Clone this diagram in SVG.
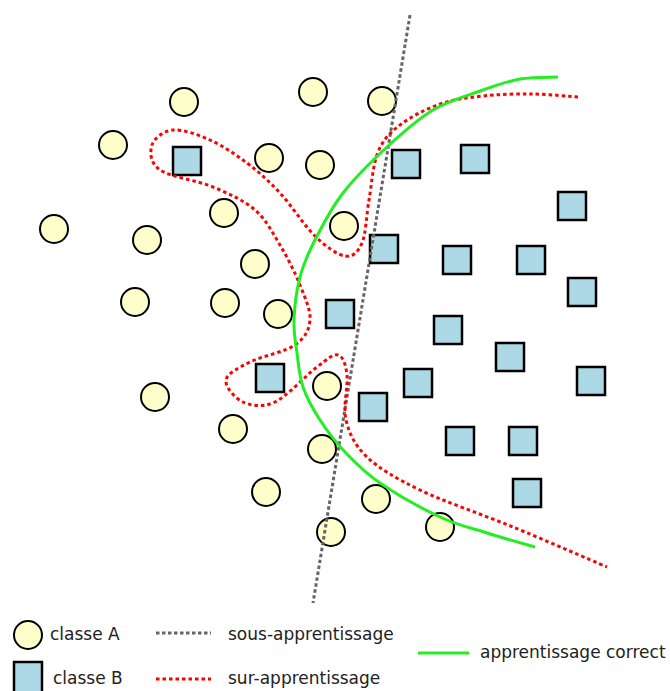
<svg xmlns="http://www.w3.org/2000/svg" width="670" height="691" viewBox="0 0 670 691">
<style>
.a{fill:#ffffcc;stroke:#000;stroke-width:2}
.b{fill:#add8e6;stroke:#000;stroke-width:2.5}
.t{font-family:"DejaVu Sans",sans-serif;font-size:17px;fill:#222}
.under{fill:none;stroke:#666;stroke-width:3;stroke-dasharray:3.5 2.5}
.over{fill:none;stroke:#ff0000;stroke-width:3;stroke-dasharray:3.5 3}
.good{fill:none;stroke:#22ee22;stroke-width:3}
</style>
<rect width="670" height="691" fill="#fff"/>
<g id="classA">
<circle class="a" cx="184" cy="102" r="14"/>
<circle class="a" cx="313" cy="92" r="14"/>
<circle class="a" cx="382" cy="101" r="14"/>
<circle class="a" cx="113" cy="145" r="14"/>
<circle class="a" cx="269" cy="158" r="14"/>
<circle class="a" cx="320" cy="165" r="14"/>
<circle class="a" cx="224" cy="213" r="14"/>
<circle class="a" cx="54" cy="229" r="14"/>
<circle class="a" cx="147" cy="240" r="14"/>
<circle class="a" cx="344" cy="226" r="14"/>
<circle class="a" cx="255" cy="264" r="14"/>
<circle class="a" cx="135" cy="302" r="14"/>
<circle class="a" cx="225" cy="303" r="14"/>
<circle class="a" cx="278" cy="314" r="14"/>
<circle class="a" cx="327" cy="386" r="14"/>
<circle class="a" cx="155" cy="397" r="14"/>
<circle class="a" cx="233" cy="429" r="14"/>
<circle class="a" cx="322" cy="449" r="14"/>
<circle class="a" cx="266" cy="492" r="14"/>
<circle class="a" cx="376" cy="499" r="14"/>
<circle class="a" cx="331" cy="532" r="14"/>
<circle class="a" cx="440" cy="527" r="14"/>
</g>
<g id="classB">
<rect class="b" x="173" y="147" width="28" height="28"/>
<rect class="b" x="392" y="150" width="28" height="28"/>
<rect class="b" x="461" y="145" width="28" height="28"/>
<rect class="b" x="558" y="192" width="28" height="28"/>
<rect class="b" x="370" y="235" width="28" height="28"/>
<rect class="b" x="443" y="246" width="28" height="28"/>
<rect class="b" x="517" y="246" width="28" height="28"/>
<rect class="b" x="568" y="278" width="28" height="28"/>
<rect class="b" x="326" y="300" width="28" height="28"/>
<rect class="b" x="434" y="316" width="28" height="28"/>
<rect class="b" x="496" y="343" width="28" height="28"/>
<rect class="b" x="256" y="364" width="28" height="28"/>
<rect class="b" x="404" y="369" width="28" height="28"/>
<rect class="b" x="577" y="367" width="28" height="28"/>
<rect class="b" x="359" y="393" width="28" height="28"/>
<rect class="b" x="446" y="427" width="28" height="28"/>
<rect class="b" x="509" y="427" width="28" height="28"/>
<rect class="b" x="513" y="479" width="28" height="28"/>
</g>
<g id="connectors">
<line id="sous" class="under" x1="410" y1="15" x2="313" y2="603"/>
<path id="sur" class="over" d="M578,97 C570.5,96.5 548.8,94.2 533,94 C517.2,93.8 498.5,94.3 483,96 C467.5,97.7 453.8,99.2 440,104 C426.2,108.8 410.3,117 400,125 C389.7,133 383.2,139.5 378,152 C372.8,164.5 371.7,184.8 369,200 C366.3,215.2 366,233.7 362,243 C358,252.3 352.8,257.2 345,256 C337.2,254.8 325.8,246.5 315,236 C304.2,225.5 291.3,205.2 280,193 C268.7,180.8 258.7,171.8 247,163 C235.3,154.2 222.3,145.5 210,140 C197.7,134.5 182.7,129.2 173,130 C163.3,130.8 154.2,138.3 152,145 C149.8,151.7 149.8,163 160,170 C170.2,177 197.2,180.3 213,187 C228.8,193.7 243.8,200.3 255,210 C266.2,219.7 272.5,232.5 280,245 C287.5,257.5 295,272.5 300,285 C305,297.5 310.8,310 310,320 C309.2,330 305,338 295,345 C285,352 261.5,356.2 250,362 C238.5,367.8 227.2,373.3 226,380 C224.8,386.7 234.8,398.3 243,402 C251.2,405.7 262.7,407.8 275,402 C287.3,396.2 306.5,374.8 317,367 C327.5,359.2 333,353.7 338,355 C343,356.3 345.7,364.2 347,375 C348.3,385.8 342.7,406.3 346,420 C349.3,433.7 354.7,445.3 367,457 C379.3,468.7 395.7,478.3 420,490 C444.3,501.7 481.8,514.2 513,527 C544.2,539.8 591.3,560.3 607,567"/>
<path id="correct" class="good" d="M558,77 C551.7,77.3 532.5,76.8 520,79 C507.5,81.2 497.5,84.8 483,90 C468.5,95.2 449,100.5 433,110 C417,119.5 402,133.2 387,147 C372,160.8 355,177.5 343,193 C331,208.5 322.2,226 315,240 C307.8,254 303.5,263.7 300,277 C296.5,290.3 294.5,307.3 294,320 C293.5,332.7 295.5,341.8 297,353 C298.5,364.2 299.2,375.8 303,387 C306.8,398.2 313,409.2 320,420 C327,430.8 335,441.5 345,452 C355,462.5 364.2,472.2 380,483 C395.8,493.8 422.2,508.7 440,517 C457.8,525.3 471.2,528 487,533 C502.8,538 527,544.7 535,547"/>
</g>
<g id="legend">
<circle class="a" cx="28" cy="635" r="14"/>
<text class="t" x="50" y="640">classe A</text>
<line class="under" x1="156" y1="633" x2="211" y2="633" stroke-width="2.5"/>
<text class="t" x="228" y="640">sous-apprentissage</text>
<rect class="b" x="14" y="662" width="28" height="32"/>
<text class="t" x="53" y="684">classe B</text>
<line class="over" x1="156" y1="679" x2="211" y2="679" stroke-width="2.5"/>
<text class="t" x="228" y="684">sur-apprentissage</text>
<line class="good" x1="418" y1="653" x2="469" y2="653"/>
<text class="t" x="480" y="658">apprentissage correct</text>
</g>
</svg>
